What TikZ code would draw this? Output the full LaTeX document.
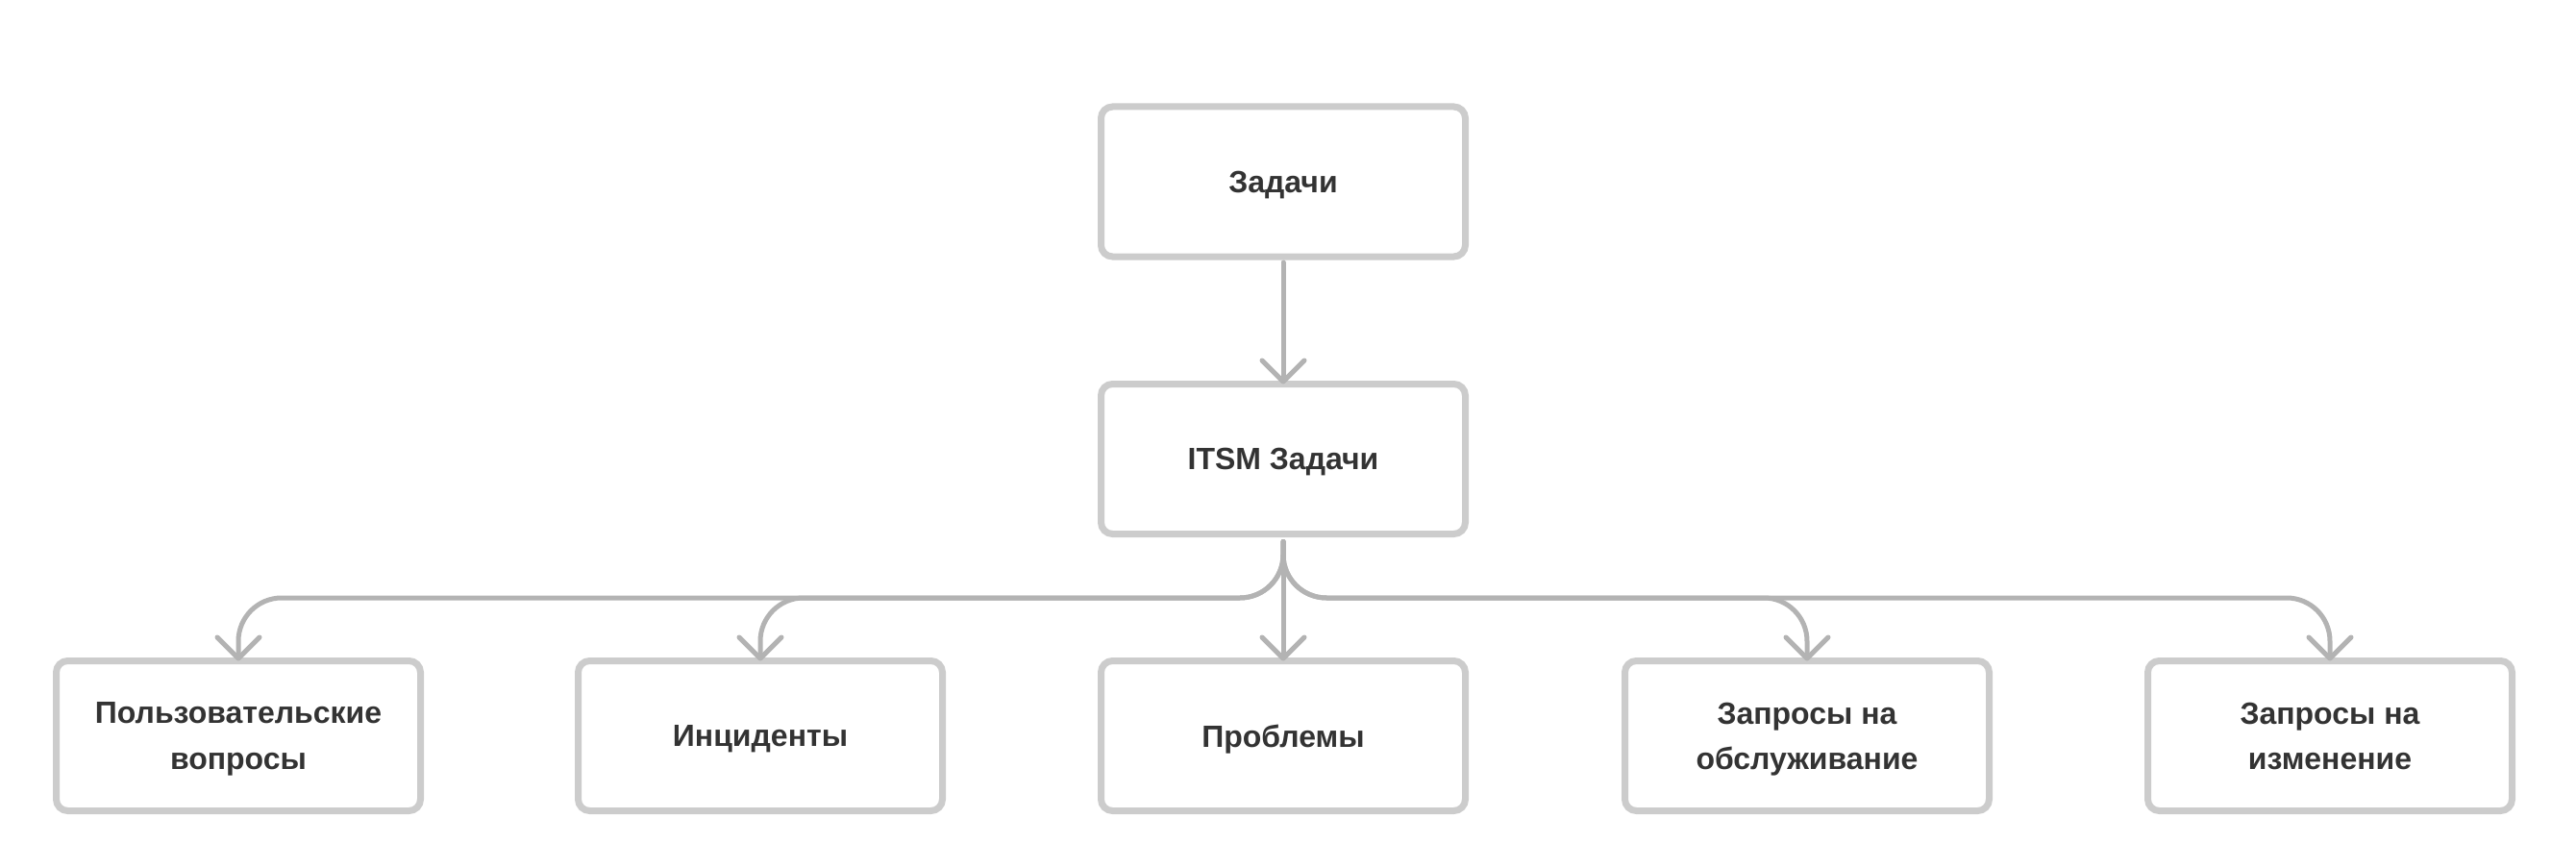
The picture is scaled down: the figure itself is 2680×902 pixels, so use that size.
\documentclass[tikz,border=0pt]{standalone}
\usepackage{fontspec}
\setmainfont{Liberation Sans}
\usepackage{tikz}
\usetikzlibrary{arrows.meta}

\definecolor{boxline}{HTML}{CCCCCC}
\definecolor{linkline}{HTML}{B3B3B3}
\definecolor{labeltext}{HTML}{333333}

\begin{document}
\begin{tikzpicture}[x=0.25pt,y=0.25pt,
  task/.style={draw=boxline,line width=1.75pt,rounded corners=3pt,fill=white,
    minimum width=94.75pt,minimum height=39pt,align=center,outer sep=0pt,
    text depth=0pt,text=labeltext,font=\bfseries\fontsize{8}{11.8}\selectfont},
  link/.style={draw=linkline,line width=1.25pt,line cap=round,
    -{Straight Barb[length=5.5pt,width=11pt,round]}}]
\useasboundingbox (0,0) rectangle (2680,902);

\node[task] (tasks) at (1335,713) {Задачи};
\node[task] (itsm) at (1335,424.5) {ITSM Задачи};

\node[task] (user) at (248,136.5) {Пользовательские\\вопросы};
\node[task] (incid) at (791,136.5) {Инциденты};
\node[task] (probl) at (1335,136.5) {Проблемы};
\node[task] (service) at (1880,136.5) {Запросы на\\обслуживание};
\node[task] (change) at (2424,136.5) {Запросы на\\изменение};

\coordinate (bus) at (1335,280);

\draw[link,shorten <=1.5pt] (tasks.south) -- (itsm.north);
\draw[link,shorten <=2pt] (itsm.south) -- (probl.north);
\foreach \n in {user,incid,service,change}
  \draw[link,shorten <=2pt,rounded corners=11.25pt] (itsm.south) |- (\n.north |- bus) -- (\n.north);
\end{tikzpicture}
\end{document}
